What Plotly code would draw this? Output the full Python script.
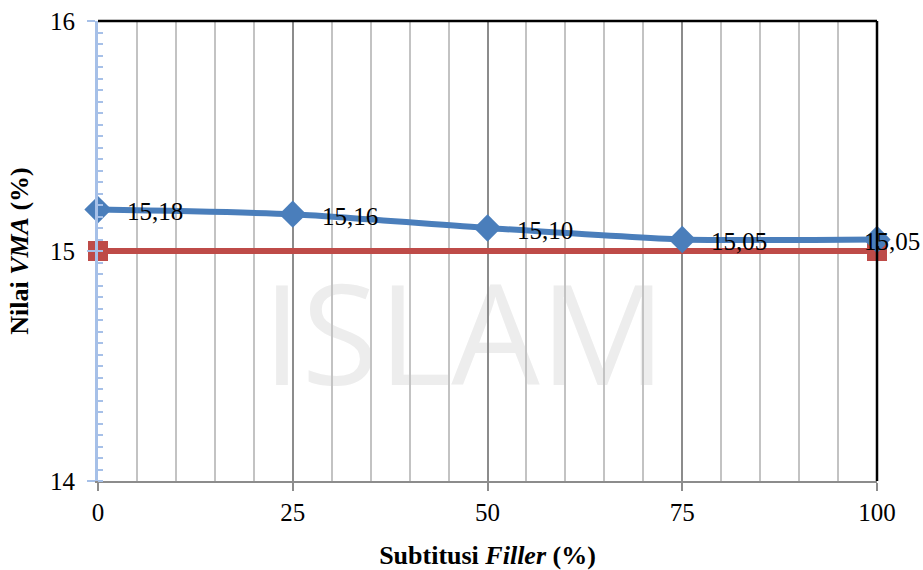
import plotly.graph_objects as go

# Data
substitusi = [0, 25, 50, 75, 100]
vma = [15.18, 15.16, 15.10, 15.05, 15.05]
batas_x = [0, 100]
batas_vma = [15.0, 15.0]

BLUE = "#4A7EBB"
RED = "#BE4B48"
FONT = "Liberation Serif, Times New Roman, serif"

fig = go.Figure()

fig.add_trace(go.Scatter(
    x=batas_x, y=batas_vma, mode="lines+markers",
    line=dict(color=RED, width=6),
    marker=dict(symbol="square", size=20, color=RED),
    cliponaxis=False, showlegend=False, hoverinfo="skip",
))
fig.add_trace(go.Scatter(
    x=substitusi, y=vma, mode="lines+markers",
    line=dict(color=BLUE, width=6, shape="spline", smoothing=0.6),
    marker=dict(symbol="diamond", size=21, color=BLUE),
    cliponaxis=False, showlegend=False, hoverinfo="skip",
))

# Value labels with decimal comma; the last one is pulled back inside the frame
for xv, yv in zip(substitusi, vma):
    fig.add_annotation(
        x=xv, y=yv, text=f"{yv:.2f}".replace(".", ","),
        showarrow=False, xanchor="left", yanchor="middle",
        xshift=27 if xv < max(substitusi) else -15, yshift=-2,
        font=dict(family=FONT, size=25, color="black"),
    )

# Faint watermark behind the grid
fig.add_shape(
    type="rect", xref="paper", yref="paper", x0=0.12, x1=0.82, y0=0.18, y1=0.43,
    line=dict(width=0), fillcolor="rgba(0,0,0,0)", layer="below",
    label=dict(text="ISLAM", font=dict(family="Open Sans", size=140, color="#ededed")),
)

# Black top and right frame
fig.add_shape(type="line", xref="paper", yref="paper", x0=0, x1=1, y0=1, y1=1,
              line=dict(color="black", width=2.5))
fig.add_shape(type="line", xref="paper", yref="paper", x0=1, x1=1, y0=0, y1=1,
              line=dict(color="black", width=2.5))

fig.update_xaxes(
    range=[0, 100], tickvals=[0, 25, 50, 75, 100], automargin=False,
    showline=True, linecolor="#8c8c8c", linewidth=2,
    ticks="outside", ticklen=8, tickcolor="#8c8c8c", tickwidth=1.5,
    showgrid=True, gridcolor="#8c8c8c", gridwidth=1.5,
    minor=dict(dtick=5, showgrid=True, gridcolor="#c3c3c3", gridwidth=1.5),
    tickfont=dict(family=FONT, size=25, color="black"),
    ticklabelstandoff=0,
    title=dict(text="<b>Subtitusi <i>Filler</i> (%)</b>",
               font=dict(family=FONT, size=26, color="black"), standoff=24),
    zeroline=False,
)
fig.update_yaxes(
    range=[14, 16], tickvals=[14, 15, 16], automargin=False,
    showline=True, linecolor="#A6C0E8", linewidth=3,
    ticks="outside", ticklen=8, tickcolor="#A6C0E8", tickwidth=2,
    minor=dict(dtick=0.05, ticks="inside", ticklen=5, tickcolor="#A6C0E8", tickwidth=2),
    showgrid=False, zeroline=False,
    tickfont=dict(family=FONT, size=25, color="black"),
    ticklabelstandoff=7,
    title=dict(text="<b>Nilai <i>VMA</i> (%)</b>",
               font=dict(family=FONT, size=26, color="black"), standoff=14),
)

fig.update_layout(
    width=923, height=570,
    margin=dict(l=98, r=46, t=21, b=89),
    paper_bgcolor="white", plot_bgcolor="white",
)

fig.write_html("out.html")
